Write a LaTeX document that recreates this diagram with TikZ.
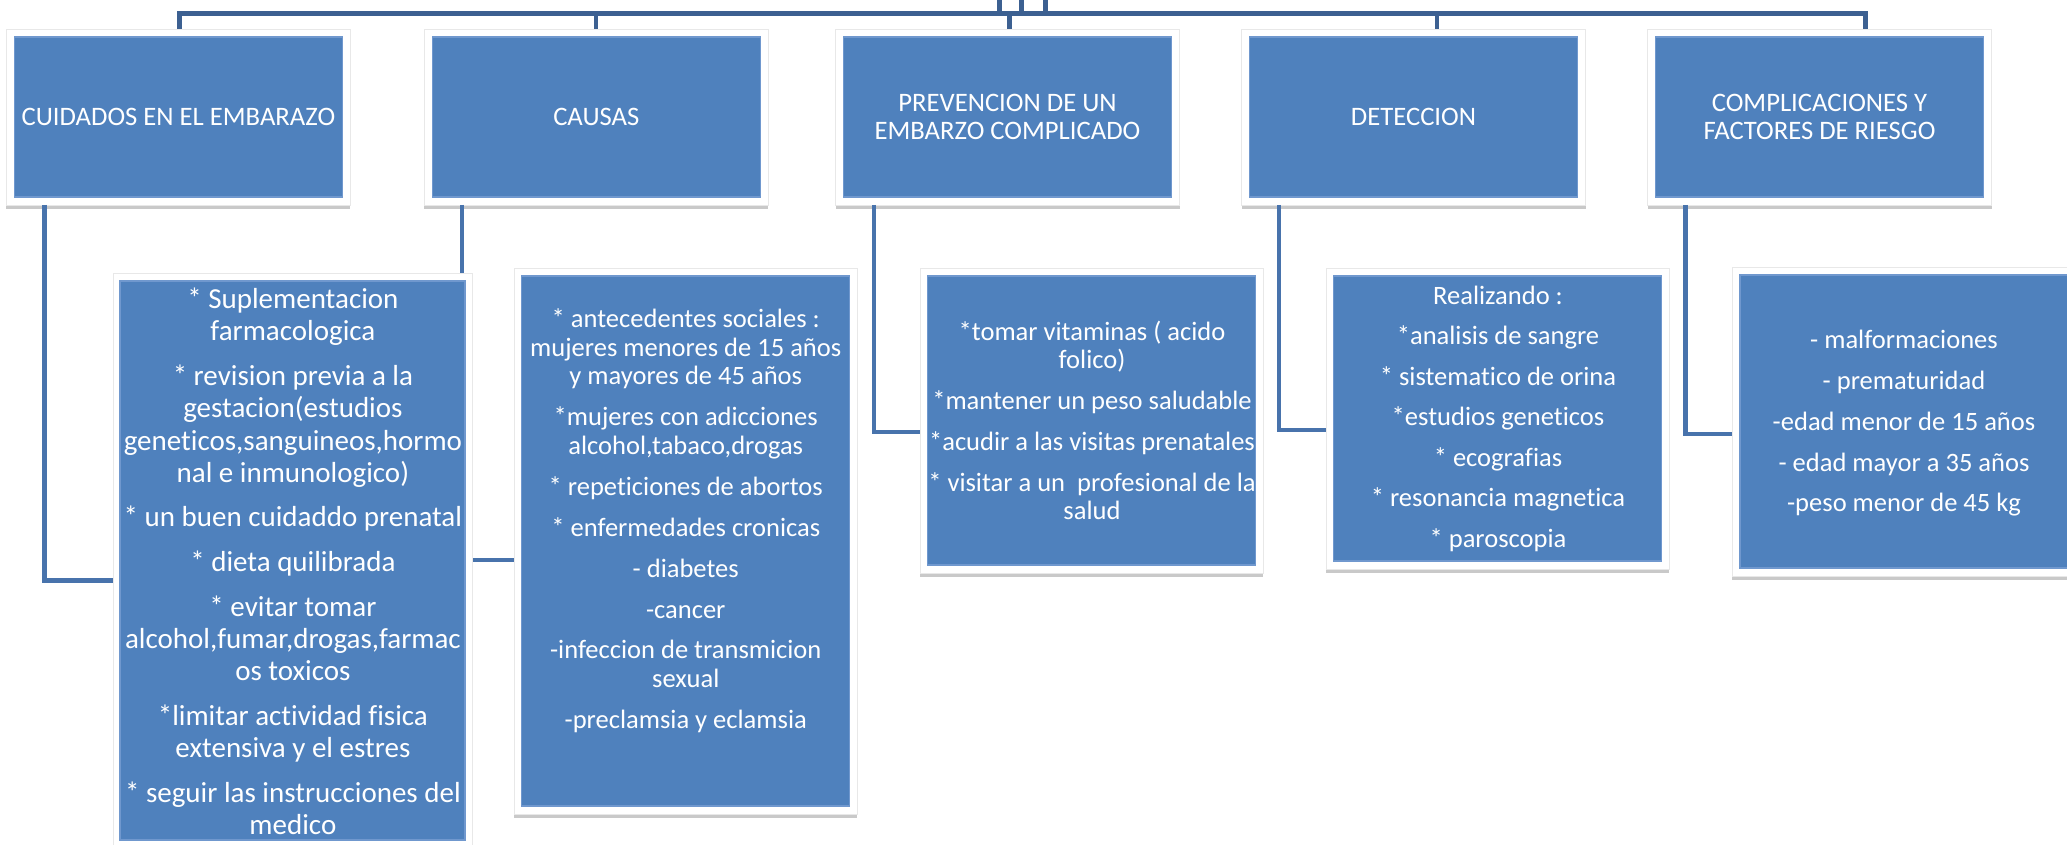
\documentclass[tikz,border=0pt]{standalone}
\usepackage{fontspec}
\setmainfont{Carlito}[Ligatures={NoCommon}]
\usetikzlibrary{shadows}
\definecolor{boxblue}{RGB}{79,129,189}
\definecolor{edgeblue}{RGB}{112,152,206}
\definecolor{linetop}{RGB}{60,96,145}
\definecolor{linechild}{RGB}{72,115,172}
\tikzset{
  sz/.style 2 args={minimum width=#1*0.75pt, minimum height=#2*0.75pt},
  frm/.style={fill=white, draw=black!9, line width=0.6pt, inner sep=0pt, outer sep=0pt,
    drop shadow={shadow xshift=0pt, shadow yshift=-3pt, opacity=0.3, fill=black!70}},
  blu/.style={fill=boxblue, draw=edgeblue, line width=0.8pt, inner sep=0pt, outer sep=0pt},
  ttl/.style={text=white, align=center, font=\fontsize{20}{20.8}\selectfont},
  big/.style={text=white, align=center, font=\fontsize{21.75}{24.3}\selectfont, inner sep=0pt},
  txt/.style={text=white, align=center, font=\fontsize{19.9}{21.4}\selectfont, inner sep=0pt},
  tl/.style={draw=linetop, line width=3.5pt},
  cn/.style={draw=linechild, line width=3.4pt},
}
\begin{document}
\begin{tikzpicture}[x=0.75pt,y=-0.75pt]
\useasboundingbox (0,0) rectangle (2067,845);
\clip (0,0) rectangle (2067,845);

% named coordinates for the connector geometry
\coordinate (d1) at (179.2,13.3);
\coordinate (d2) at (596,13.3);
\coordinate (d3) at (1009.5,13.3);
\coordinate (d4) at (1437,13.3);
\coordinate (d5) at (1865.5,13.3);
\coordinate (s1) at (999.7,-5);
\coordinate (s2) at (1021.5,-5);
\coordinate (s3) at (1045.2,-5);
\coordinate (e1) at (44.6,580.5);
\coordinate (e2) at (462,560);
\coordinate (e3) at (874,432);
\coordinate (e4) at (1279,430);
\coordinate (e5) at (1685.5,434);
% child frame anchors (left edges) used by connectors
\coordinate (h1) at (113,560.5);
\coordinate (h2) at (514,541);
\coordinate (h3) at (920,420.5);
\coordinate (h4) at (1326,418.5);
\coordinate (h5) at (1732,421.5);

% frames (white, shadowed)
\path
  node[frm, sz={344}{176}] (f1) at (178.4,117) {}
  node[frm, sz={344}{176}] (f2) at (596.3,117) {}
  node[frm, sz={344}{176}] (f3) at (1007.5,117) {}
  node[frm, sz={344}{176}] (f4) at (1413.5,117) {}
  node[frm, sz={344}{176}] (f5) at (1819.5,117) {};

% connectors
\draw[tl] (f1.north -| d1) |- (d5) -- (f5.north -| d5);
\draw[tl] (d2) -- (d2 |- f2.north);
\draw[tl] (d3) -- (d3 |- f3.north);
\draw[tl] (d4) -- (d4 |- f4.north);
\draw[tl] (s1) -- (s1 |- d1);
\draw[tl] (s2) -- (s2 |- d1);
\draw[tl] (s3) -- (s3 |- d1);

\draw[cn] (f1.south -| e1) |- (h1 |- e1);
\draw[cn] (f2.south -| e2) |- (h2 |- e2);
\draw[cn] (f3.south -| e3) |- (h3 |- e3);
\draw[cn] (f4.south -| e4) |- (h4 |- e4);
\draw[cn] (f5.south -| e5) |- (h5 |- e5);

\path
  node[frm, sz={359}{575}] (g1) at (292.5,560.5) {}
  node[frm, sz={343}{546}] (g2) at (685.5,541) {}
  node[frm, sz={343}{305}] (g3) at (1091.5,420.5) {}
  node[frm, sz={343}{301}] (g4) at (1497.5,418.5) {}
  node[frm, sz={344}{309}] (g5) at (1904,421.5) {};

% top boxes
\node[blu, sz={328}{160}, ttl] (t1) at (f1.center) {CUIDADOS EN EL EMBARAZO};
\node[blu, sz={328}{160}, ttl] (t2) at (f2.center) {CAUSAS};
\node[blu, sz={328}{160}, ttl] (t3) at (f3.center) {PREVENCION DE UN\\EMBARZO COMPLICADO};
\node[blu, sz={328}{160}, ttl] (t4) at (f4.center) {DETECCION};
\node[blu, sz={328}{160}, ttl] (t5) at (f5.center) {COMPLICACIONES Y\\FACTORES DE RIESGO};

% child boxes
\node[blu, sz={345}{559}] (c1) at (g1.center) {};
\node[blu, sz={328}{530}] (c2) at (g2.center) {};
\node[blu, sz={328}{289}] (c3) at (g3.center) {};
\node[blu, sz={328}{285}] (c4) at (g4.center) {};
\node[blu, sz={328}{293}] (c5) at (g5.center) {};

% child texts
\node[big] (x1) at (292.9,561.3) {* Suplementacion\\farmacologica\\[9.1pt]* revision previa a la\\gestacion(estudios\\geneticos,sanguineos,hormo\\nal e inmunologico)\\[9.1pt]* un buen cuidaddo prenatal\\[9.1pt]* dieta quilibrada\\[9.1pt]* evitar tomar\\alcohol,fumar,drogas,farmac\\os toxicos\\[9.1pt]*limitar actividad fisica\\extensiva y el estres\\[9.1pt]* seguir las instrucciones del\\medico};
\node[txt] (x2) at (685.75,520.8) {* antecedentes sociales :\\mujeres menores de 15 años\\y mayores de 45 años\\[9.3pt]*mujeres con adicciones\\alcohol,tabaco,drogas\\[9.3pt]* repeticiones de abortos\\[9.3pt]* enfermedades cronicas\\[9.3pt]- diabetes\\[9.3pt]-cancer\\[9.3pt]-infeccion de transmicion\\sexual\\[9.3pt]-preclamsia y eclamsia};
\node[txt] (x3) at (1092,420.5) {*tomar vitaminas ( acido\\folico)\\[9.2pt]*mantener un peso saludable\\[9.2pt]*acudir a las visitas prenatales\\[9.2pt]* visitar a un~ profesional de la\\salud};
\node[txt] (x4) at (1498,418.7) {Realizando :\\[9pt]*analisis de sangre\\[9pt]* sistematico de orina\\[9pt]*estudios geneticos\\[9pt]* ecografias\\[9pt]* resonancia magnetica\\[9pt]* paroscopia};
\node[txt] (x5) at (1904,423.3) {- malformaciones\\[9.2pt]- prematuridad\\[9.2pt]-edad menor de 15 años\\[9.2pt]- edad mayor a 35 años\\[9.2pt]-peso menor de 45 kg};
\end{tikzpicture}
\end{document}
